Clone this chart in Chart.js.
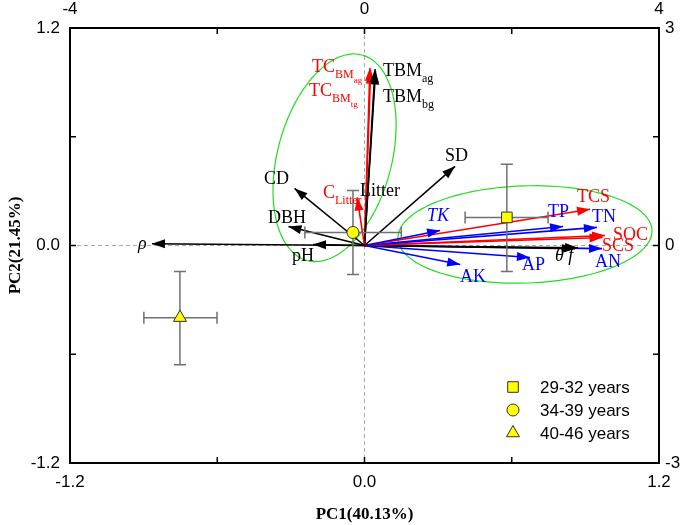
<!DOCTYPE html>
<html>
<head>
<meta charset="utf-8">
<script src="https://cdn.jsdelivr.net/npm/chart.js@4/dist/chart.umd.min.js"></script>
<style>
  body { margin: 0; background: #fff; }
</style>
</head>
<body>
<canvas id="pca" width="685" height="525"></canvas>
<script>
// variable loadings (PC1, PC2)
const varNames = ['ρ', 'pH', 'DBH', 'CD', 'C_Litter', 'TBM_ag', 'TC_BMag', 'TBM_bg', 'TC_BMtg', 'SD',
                  'TK', 'TCS', 'TP', 'TN', 'SOC', 'SCS', 'θ', 'f', 'AN', 'AP', 'AK'];
const varPc1 = [-0.866, -0.21, -0.31, -0.285, -0.03, 0.043, 0.022, 0.045, 0.025, 0.369,
                0.308, 0.919, 0.809, 0.947, 0.98, 0.97, 0.857, 0.87, 0.968, 0.674, 0.39];
const varPc2 = [0.01, 0.005, 0.105, 0.315, 0.265, 0.973, 0.98, 0.96, 0.965, 0.437,
                0.083, 0.2, 0.105, 0.1, 0.055, 0.044, -0.017, -0.012, -0.017, -0.066, -0.105];
const varKind = ['k', 'k', 'k', 'k', 'r', 'k', 'r', 'k', 'r', 'k',
                 'b', 'r', 'b', 'b', 'r', 'r', 'k', 'k', 'b', 'b', 'b'];

// stand age groups (scores) with error bars
const groupNames = ['29-32 years', '34-39 years', '40-46 years'];
const groupPc1 = [0.58, -0.047, -0.752];
const groupPc2 = [0.155, 0.072, -0.398];
const groupPc1Lo = [0.41, -0.243, -0.899];
const groupPc1Hi = [0.748, 0.15, -0.601];
const groupPc2Lo = [-0.144, -0.16, -0.658];
const groupPc2Hi = [0.448, 0.304, -0.144];

// tick labels
const pc1Ticks = [-1.2, 0, 1.2];
const pc2Ticks = [-1.2, 0, 1.2];
const topTicks = [-4, 0, 4];
const rightTicks = [-3, 0, 3];

const kindColor = { k: '#000000', r: '#ff0000', b: '#0000ff' };
const serif = '"Liberation Serif", "Times New Roman", serif';
const sans = '"Liberation Sans", Arial, sans-serif';

// green ellipses: centre + two half-axis vectors, in PC units
const ellipses = [
  { cx: -0.122, cy: 0.484, ux: 0.112, uy: 0.567, vx: 0.2245, vy: -0.0818 },
  { cx: 0.654, cy: 0.061, ux: 0.5175, uy: 0.022, vx: 0.006, vy: -0.268 }
];

// vector labels: parts [text, level, italic], anchor (left, baseline) in PC units
const vecLabels = [
  { p: [['ρ', 0, 1]], x: -0.923, y: -0.022, c: 'k' },
  { p: [['pH', 0]], x: -0.295, y: -0.088, c: 'k' },
  { p: [['DBH', 0]], x: -0.393, y: 0.122, c: 'k' },
  { p: [['CD', 0]], x: -0.41, y: 0.337, c: 'k' },
  { p: [['C', 0], ['Litter', 1]], x: -0.169, y: 0.26, c: 'r' },
  { p: [['Litter', 0]], x: -0.018, y: 0.271, c: 'k' },
  { p: [['TC', 0], ['BM', 1], ['ag', 2]], x: -0.214, y: 0.957, c: 'r' },
  { p: [['TC', 0], ['BM', 1], ['tg', 2]], x: -0.226, y: 0.824, c: 'r' },
  { p: [['TBM', 0], ['ag', 1]], x: 0.075, y: 0.935, c: 'k' },
  { p: [['TBM', 0], ['bg', 1]], x: 0.075, y: 0.791, c: 'k' },
  { p: [['SD', 0]], x: 0.328, y: 0.465, c: 'k' },
  { p: [['TK', 0, 1]], x: 0.255, y: 0.133, c: 'b' },
  { p: [['TCS', 0]], x: 0.866, y: 0.238, c: 'r' },
  { p: [['TP', 0]], x: 0.748, y: 0.155, c: 'b' },
  { p: [['TN', 0]], x: 0.927, y: 0.127, c: 'b' },
  { p: [['SOC', 0]], x: 1.013, y: 0.033, c: 'r' },
  { p: [['SCS', 0]], x: 0.968, y: -0.033, c: 'r' },
  { p: [['θ f', 0, 1]], x: 0.776, y: -0.088, c: 'k' },
  { p: [['AN', 0]], x: 0.939, y: -0.116, c: 'b' },
  { p: [['AP', 0]], x: 0.642, y: -0.133, c: 'b' },
  { p: [['AK', 0]], x: 0.389, y: -0.199, c: 'b' }
];

const groupStyles = ['rect', 'circle', 'triangle'];
const groupRadius = [7.5, 6, 7.5];

function near(v, list) {
  return list.some(t => Math.abs(v - t) < 1e-6);
}

function drawMarker(ctx, style, x, y, r) {
  ctx.beginPath();
  if (style === 'rect') {
    const s = r * Math.SQRT1_2;
    ctx.rect(x - s, y - s, 2 * s, 2 * s);
  } else if (style === 'circle') {
    ctx.arc(x, y, r, 0, Math.PI * 2);
  } else {
    for (let k = 0; k < 3; k++) {
      const a = k * 2 * Math.PI / 3;
      const px = x + Math.sin(a) * r, py = y - Math.cos(a) * r;
      if (k === 0) ctx.moveTo(px, py); else ctx.lineTo(px, py);
    }
    ctx.closePath();
  }
  ctx.fillStyle = '#ffff00';
  ctx.fill();
  ctx.strokeStyle = '#333';
  ctx.lineWidth = 1;
  ctx.stroke();
}

const biplot = {
  id: 'biplot',
  beforeDatasetsDraw(chart) {
    const { ctx, chartArea: a, scales: { x, y } } = chart;
    ctx.save();
    // zero lines
    ctx.strokeStyle = '#aaaaaa';
    ctx.lineWidth = 1;
    ctx.setLineDash([4, 3]);
    ctx.beginPath();
    ctx.moveTo(x.getPixelForValue(0), a.top);
    ctx.lineTo(x.getPixelForValue(0), a.bottom);
    ctx.moveTo(a.left, y.getPixelForValue(0));
    ctx.lineTo(a.right, y.getPixelForValue(0));
    ctx.stroke();
    ctx.setLineDash([]);
    // ellipses
    ctx.strokeStyle = '#22dd22';
    ctx.lineWidth = 1.2;
    ellipses.forEach(e => {
      ctx.beginPath();
      for (let k = 0; k <= 120; k++) {
        const t = k / 120 * Math.PI * 2;
        const vx = e.cx + e.ux * Math.cos(t) + e.vx * Math.sin(t);
        const vy = e.cy + e.uy * Math.cos(t) + e.vy * Math.sin(t);
        const px = x.getPixelForValue(vx), py = y.getPixelForValue(vy);
        if (k === 0) ctx.moveTo(px, py); else ctx.lineTo(px, py);
      }
      ctx.stroke();
    });
    ctx.restore();
  },
  beforeDatasetDraw(chart, args) {
    const ds = chart.data.datasets[args.index];
    if (ds.group === undefined) return;
    const g = ds.group;
    const { ctx, scales: { x, y } } = chart;
    const cx = x.getPixelForValue(groupPc1[g]), cy = y.getPixelForValue(groupPc2[g]);
    const x0 = x.getPixelForValue(groupPc1Lo[g]), x1 = x.getPixelForValue(groupPc1Hi[g]);
    const y0 = y.getPixelForValue(groupPc2Lo[g]), y1 = y.getPixelForValue(groupPc2Hi[g]);
    const cap = 6;
    ctx.save();
    ctx.strokeStyle = '#707070';
    ctx.lineWidth = 1.5;
    ctx.beginPath();
    ctx.moveTo(x0, cy); ctx.lineTo(x1, cy);
    ctx.moveTo(x0, cy - cap); ctx.lineTo(x0, cy + cap);
    ctx.moveTo(x1, cy - cap); ctx.lineTo(x1, cy + cap);
    ctx.moveTo(cx, y0); ctx.lineTo(cx, y1);
    ctx.moveTo(cx - cap, y0); ctx.lineTo(cx + cap, y0);
    ctx.moveTo(cx - cap, y1); ctx.lineTo(cx + cap, y1);
    ctx.stroke();
    ctx.restore();
  },
  afterDatasetDraw(chart, args) {
    const ds = chart.data.datasets[args.index];
    if (!ds.arrow) return;
    const pts = args.meta.data;
    const p0 = pts[0], p1 = pts[1];
    const ang = Math.atan2(p1.y - p0.y, p1.x - p0.x);
    const len = 13, half = 4.5;
    const { ctx } = chart;
    ctx.save();
    ctx.translate(p1.x, p1.y);
    ctx.rotate(ang);
    ctx.beginPath();
    ctx.moveTo(0, 0);
    ctx.lineTo(-len, -half);
    ctx.lineTo(-len, half);
    ctx.closePath();
    ctx.fillStyle = ds.borderColor;
    ctx.fill();
    ctx.restore();
  },
  afterDraw(chart) {
    const { ctx, chartArea: a, scales: { x, y } } = chart;
    ctx.save();
    // vector labels
    ctx.textBaseline = 'alphabetic';
    ctx.textAlign = 'left';
    vecLabels.forEach(l => {
      let cx = x.getPixelForValue(l.x);
      const by = y.getPixelForValue(l.y);
      ctx.fillStyle = kindColor[l.c];
      l.p.forEach(([t, lev, it]) => {
        const size = lev === 0 ? 18 : lev === 1 ? 12 : 9;
        const dy = lev === 0 ? 0 : lev === 1 ? 6 : 11;
        ctx.font = (it ? 'italic ' : '') + size + 'px ' + serif;
        ctx.fillText(t, cx, by + dy);
        cx += ctx.measureText(t).width;
      });
    });
    // frame and inward ticks
    ctx.strokeStyle = '#000';
    ctx.lineWidth = 2;
    ctx.strokeRect(a.left, a.top, a.right - a.left, a.bottom - a.top);
    ctx.lineWidth = 1.5;
    ctx.beginPath();
    x.ticks.forEach(t => {
      const px = x.getPixelForValue(t.value);
      ctx.moveTo(px, a.bottom); ctx.lineTo(px, a.bottom - 6);
      ctx.moveTo(px, a.top); ctx.lineTo(px, a.top + 6);
    });
    y.ticks.forEach(t => {
      const py = y.getPixelForValue(t.value);
      ctx.moveTo(a.left, py); ctx.lineTo(a.left + 6, py);
      ctx.moveTo(a.right, py); ctx.lineTo(a.right - 6, py);
    });
    ctx.stroke();
    // legend
    ctx.font = '17px ' + sans;
    ctx.textBaseline = 'middle';
    ctx.fillStyle = '#000';
    groupNames.forEach((n, i) => {
      const ly = 387 + i * 23;
      drawMarker(ctx, groupStyles[i], 513, ly, groupRadius[i]);
      ctx.fillStyle = '#000';
      ctx.fillText(n, 540, ly + 1);
    });
    ctx.restore();
  }
};

const datasets = [];
groupNames.forEach((n, i) => {
  datasets.push({
    label: n,
    group: i,
    data: [{ x: groupPc1[i], y: groupPc2[i] }],
    pointStyle: groupStyles[i],
    pointRadius: groupRadius[i],
    backgroundColor: '#ffff00',
    borderColor: '#333',
    borderWidth: 1,
    order: 0
  });
});
varNames.forEach((n, i) => {
  datasets.push({
    label: n,
    arrow: true,
    data: [{ x: 0, y: 0 }, { x: varPc1[i], y: varPc2[i] }],
    showLine: true,
    borderColor: kindColor[varKind[i]],
    borderWidth: 1.6,
    pointRadius: 0,
    order: 1
  });
});

const tickFont = { family: sans, size: 17 };
const titleFont = { family: serif, size: 17, weight: 'bold' };

new Chart(document.getElementById('pca'), {
  type: 'scatter',
  data: { datasets: datasets },
  options: {
    responsive: false,
    animation: false,
    events: [],
    layout: { padding: 0 },
    plugins: { legend: { display: false }, tooltip: { enabled: false } },
    scales: {
      x: {
        type: 'linear', position: 'bottom', min: -1.2, max: 1.2,
        grid: { display: false, drawTicks: false }, border: { display: false },
        ticks: { stepSize: 0.6, autoSkip: false, maxRotation: 0, font: tickFont, color: '#000', padding: 9,
                 callback: v => near(v, pc1Ticks) ? (Math.abs(v) < 1e-6 ? '0.0' : v.toFixed(1)) : '' },
        title: { display: true, text: 'PC1(40.13%)', font: titleFont, color: '#000', padding: { top: 0, bottom: 0 } },
        afterFit: s => { s.height = 62; }
      },
      x2: {
        type: 'linear', axis: 'x', position: 'top', min: -4, max: 4,
        grid: { display: false, drawTicks: false }, border: { display: false },
        ticks: { stepSize: 2, autoSkip: false, maxRotation: 0, font: tickFont, color: '#000', padding: 8,
                 callback: v => near(v, topTicks) ? String(Math.round(v)) : '' },
        afterFit: s => { s.height = 28; }
      },
      y: {
        type: 'linear', position: 'left', min: -1.2, max: 1.2,
        grid: { display: false, drawTicks: false }, border: { display: false },
        ticks: { stepSize: 0.6, autoSkip: false, font: tickFont, color: '#000', padding: 10,
                 callback: v => near(v, pc2Ticks) ? (Math.abs(v) < 1e-6 ? '0.0' : v.toFixed(1)) : '' },
        title: { display: true, text: 'PC2(21.45%)', font: titleFont, color: '#000', padding: { top: 5, bottom: 0 } },
        afterFit: s => { s.width = 70; }
      },
      y2: {
        type: 'linear', axis: 'y', position: 'right', min: -3, max: 3,
        grid: { display: false, drawTicks: false }, border: { display: false },
        ticks: { stepSize: 1.5, autoSkip: false, font: tickFont, color: '#000', padding: 6,
                 callback: v => near(v, rightTicks) ? String(Math.round(v)) : '' },
        afterFit: s => { s.width = 26; }
      }
    }
  },
  plugins: [biplot]
});
</script>
</body>
</html>
